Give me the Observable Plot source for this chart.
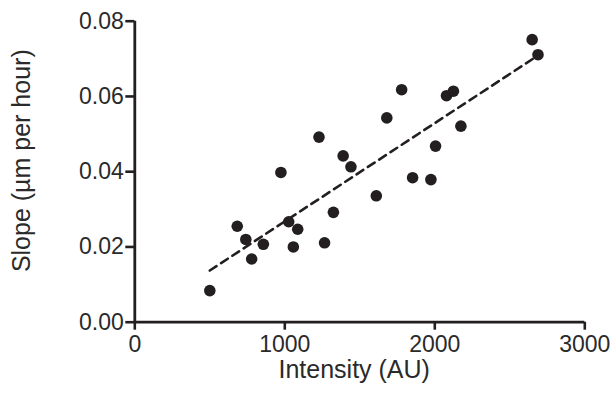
<!DOCTYPE html>
<html>
<head>
<meta charset="utf-8">
<script src="https://cdn.jsdelivr.net/npm/d3@7"></script>
<script src="https://cdn.jsdelivr.net/npm/@observablehq/plot@0.6"></script>
<style>
  html, body { margin: 0; padding: 0; background: #fff; }
</style>
</head>
<body>
<div id="chart"></div>
<script>
const intensity = [500, 683, 740, 779, 857, 974, 1026, 1057, 1086, 1228, 1265, 1324, 1389, 1441, 1610, 1680, 1779, 1852, 1974, 2005, 2078, 2124, 2174, 2649, 2688];
const slope = [0.0084, 0.0255, 0.0220, 0.0168, 0.0207, 0.0398, 0.0267, 0.0200, 0.0247, 0.0492, 0.0211, 0.0292, 0.0442, 0.0413, 0.0336, 0.0543, 0.0618, 0.0384, 0.0379, 0.0468, 0.0602, 0.0614, 0.0521, 0.0751, 0.0711];
const xTicks = [0, 1000, 2000, 3000];
const yTicks = [0, 0.02, 0.04, 0.06, 0.08];
const xLabel = "Intensity (AU)";
const yLabel = "Slope (µm per hour)";

const data = intensity.map((x, i) => ({x, y: slope[i]}));
const ink = "#231f20";

const chart = Plot.plot({
  width: 612,
  height: 410,
  marginLeft: 134.3,
  marginRight: 27.7,
  marginTop: 20.7,
  marginBottom: 88.3,
  style: {fontFamily: "'Liberation Sans', Arial, Helvetica, sans-serif", fontSize: "23px", color: ink, background: "#fff"},
  x: {domain: [0, 3000]},
  y: {domain: [0, 0.08]},
  marks: [
    Plot.axisX({ticks: xTicks, tickFormat: d3.format("d"), tickSize: 8, tickPadding: 5, strokeWidth: 2.6, stroke: ink, fill: "#2a2a2a", label: null, fontSize: 23}),
    Plot.axisY({ticks: yTicks, tickFormat: d3.format(".2f"), tickSize: 9, tickPadding: 2, strokeWidth: 2.6, stroke: ink, fill: "#2a2a2a", label: null, fontSize: 23}),
    Plot.ruleX([0], {stroke: ink, strokeWidth: 2.8}),
    Plot.ruleY([0], {stroke: ink, strokeWidth: 2.8}),
    Plot.linearRegressionY(data, {x: "x", y: "y", ci: 0, stroke: ink, strokeWidth: 2.6, strokeDasharray: "8,5.5"}),
    Plot.dot(data, {x: "x", y: "y", r: 5.8, fill: ink, stroke: "none"}),
    Plot.text([xLabel], {frameAnchor: "bottom", textAnchor: "middle", dx: -5.6, dy: 55.5, lineAnchor: "bottom", fontSize: 25, fill: "#2a2a2a"}),
    Plot.text([yLabel], {frameAnchor: "left", textAnchor: "middle", rotate: -90, dx: -105, dy: -11, lineAnchor: "bottom", fontSize: 25, fill: "#2a2a2a"})
  ]
});
document.getElementById("chart").appendChild(chart);
</script>
</body>
</html>
